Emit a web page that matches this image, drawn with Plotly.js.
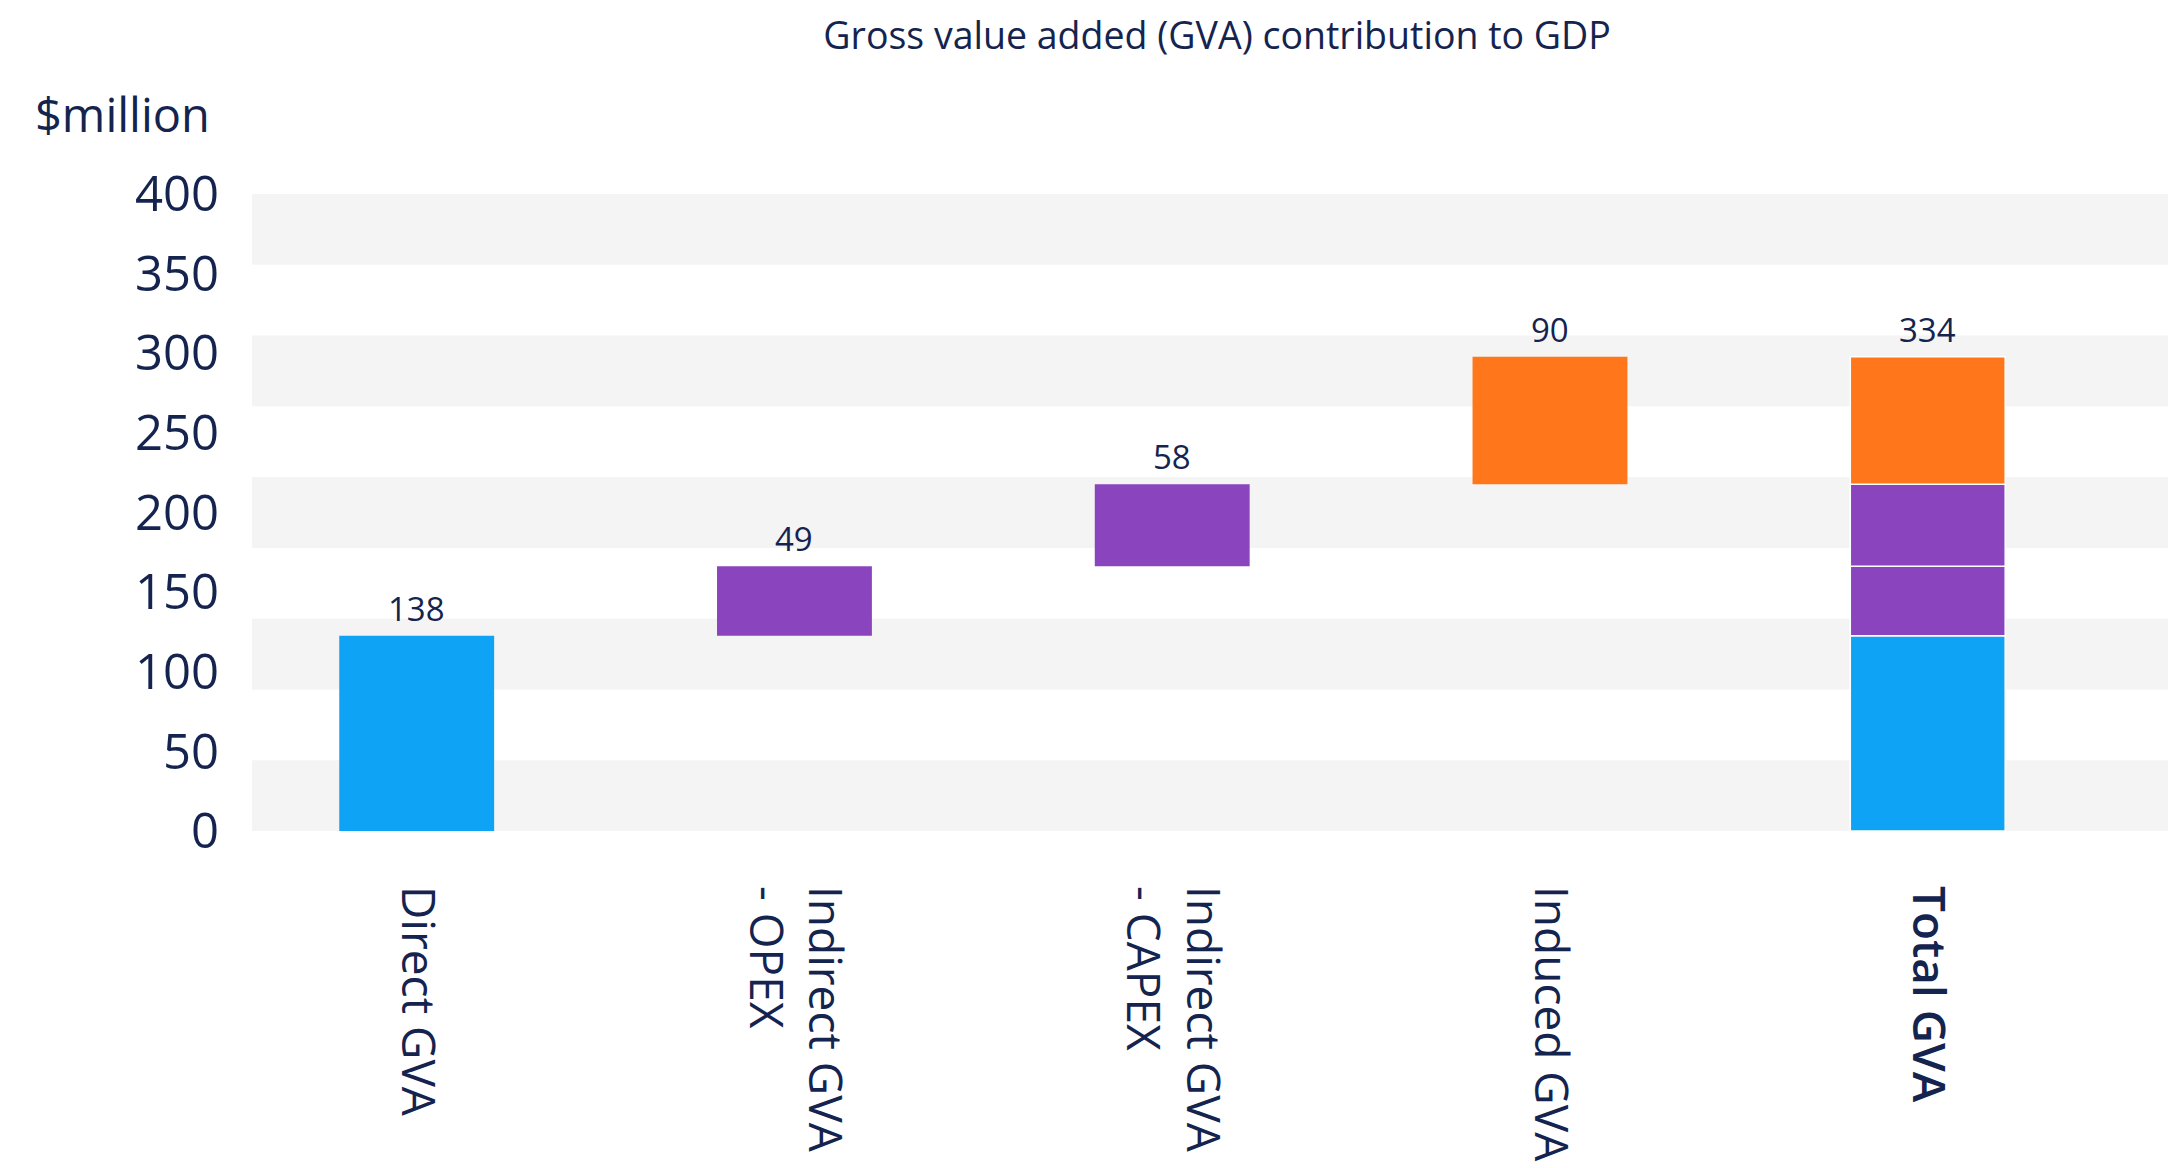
<!DOCTYPE html>
<html>
<head>
<meta charset="utf-8">
<script src="https://cdn.plot.ly/plotly-3.0.1.min.js"></script>
<style>
  html, body { margin: 0; padding: 0; background: #ffffff; }
  #chart { width: 2168px; height: 1168px; }
</style>
</head>
<body>
<div id="chart"></div>
<script>
// ---- Data ----
const categories = ["Direct GVA", "Indirect GVA<br>- OPEX", "Indirect GVA<br>- CAPEX", "Induced GVA", "<span style=\"font-weight:600\">Total GVA</span>"];
const componentValues = [138, 49, 58, 90];        // $million, contributions
const componentLabels = ["138", "49", "58", "90"];
const totalLabel = "334";
const componentColors = ["#0fa3f6", "#8a44bd", "#8a44bd", "#ff771a"];
const yTickLabels = [0, 50, 100, 150, 200, 250, 300, 350, 400];
const chartTitle = "Gross value added (GVA) contribution to GDP";
const yUnit = "$million";

// ---- Build ----
const navy = "#14244f";
const font = "'Open Sans', 'Noto Sans', sans-serif";
const yMax = 450;
const bandStep = 50;

const totalCat = categories[categories.length - 1];
const traces = [];
const annotations = [];
let running = 0;
componentValues.forEach((v, i) => {
  traces.push({
    type: "bar",
    x: [categories[i], totalCat],
    y: [v, v],
    base: [running, running],
    width: 0.41,
    marker: { color: componentColors[i], line: { color: "#ffffff", width: [0, 1.5] } },
    hoverinfo: "skip",
    showlegend: false
  });
  annotations.push({
    x: categories[i], y: running + v, xref: "x", yref: "y",
    text: componentLabels[i], showarrow: false, yanchor: "bottom", yshift: 3,
    font: { family: font, size: 33, color: navy }
  });
  running += v;
});
annotations.push({
  x: totalCat, y: running, xref: "x", yref: "y",
  text: totalLabel, showarrow: false, yanchor: "bottom", yshift: 3,
  font: { family: font, size: 33, color: navy }
});
annotations.push({
  xref: "paper", yref: "paper", x: 0, y: 1, xanchor: "right", yanchor: "middle",
  xshift: -40, yshift: 80, text: yUnit, showarrow: false,
  font: { family: font, size: 47, color: navy }
});

// alternating background bands
const shapes = [];
for (let b = 0; b < yMax; b += 2 * bandStep) {
  shapes.push({
    type: "rect", xref: "paper", yref: "y", x0: 0, x1: 1, y0: b, y1: b + bandStep,
    fillcolor: "#f4f4f4", line: { width: 0 }, layer: "below"
  });
}

const layout = {
  width: 2168, height: 1168,
  paper_bgcolor: "#ffffff", plot_bgcolor: "#ffffff",
  margin: { l: 252, r: 0, t: 194, b: 337 },
  barmode: "overlay",
  title: {
    text: chartTitle, x: 0.5614, xanchor: "center", xref: "container",
    y: 0.969, yanchor: "middle", yref: "container",
    font: { family: font, size: 37.5, color: navy }
  },
  xaxis: {
    type: "category", categoryorder: "array", categoryarray: categories,
    range: [-0.436, 4.636], showgrid: false, zeroline: false, showline: false,
    ticks: "", tickangle: 90, ticklabelstandoff: 54,
    tickfont: { family: font, size: 46, color: navy }
  },
  yaxis: {
    range: [0, yMax], showgrid: false, zeroline: false, showline: false,
    ticks: "", tickmode: "array",
    tickvals: yTickLabels.map(t => t * yMax / yTickLabels[yTickLabels.length - 1]),
    ticktext: yTickLabels.map(String), ticklabelstandoff: 32,
    tickfont: { family: font, size: 49, color: navy }
  },
  shapes: shapes,
  annotations: annotations
};

Plotly.newPlot("chart", traces, layout, { displayModeBar: false, staticPlot: true });
</script>
</body>
</html>
